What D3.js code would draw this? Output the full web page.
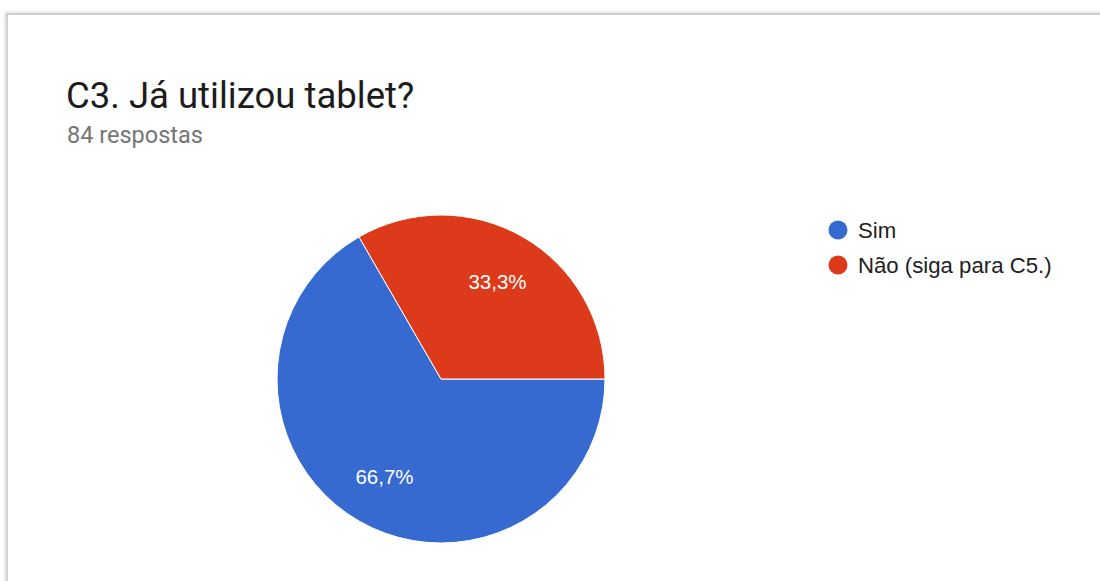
<!DOCTYPE html>
<html>
<head>
<meta charset="utf-8">
<script src="https://cdn.jsdelivr.net/npm/d3@7"></script>
<style>
  body { margin: 0; background: #fff; }
  svg { display: block; font-family: Roboto, Arial, sans-serif; }
</style>
</head>
<body>
<div id="chart"></div>
<script>
const categories = ['Sim', 'Não (siga para C5.)'];
const values = [56, 28];
const labels = ['66,7%', '33,3%'];
const colors = ['#366ad1', '#dc3a1a'];

const width = 1100;
const height = 581;

const svg = d3.select('#chart').append('svg').attr('width', width).attr('height', height);

// card frame with a soft shadow
const defs = svg.append('defs');
const blur = defs.append('filter').attr('id', 'shadow').attr('x', '-5%').attr('y', '-5%').attr('width', '110%').attr('height', '110%');
blur.append('feGaussianBlur').attr('stdDeviation', 2);

svg.append('rect')
  .attr('x', 7).attr('y', 14).attr('width', width + 20).attr('height', height + 20)
  .attr('fill', 'none').attr('stroke', '#d0d0d0').attr('stroke-width', 3)
  .attr('filter', 'url(#shadow)');
svg.append('rect')
  .attr('x', 7).attr('y', 14).attr('width', width + 20).attr('height', height + 20)
  .attr('fill', '#fff').attr('stroke', '#b8b8b8').attr('stroke-width', 1.2);

svg.append('text')
  .attr('x', 66).attr('y', 108)
  .attr('font-size', 36.5).attr('fill', '#1c1c1c')
  .text('C3. Já utilizou tablet?');

svg.append('text')
  .attr('x', 67).attr('y', 143)
  .attr('font-size', 23.5).attr('fill', '#757575')
  .text('84 respostas');

const cx = 441;
const cy = 379;
const radius = 164;

const pie = d3.pie().sort(null).startAngle(Math.PI / 2).endAngle(Math.PI / 2 + 2 * Math.PI);
const arcs = pie(values);
const arc = d3.arc().innerRadius(0).outerRadius(radius);
const labelArc = d3.arc().innerRadius(113).outerRadius(113);

const pieGroup = svg.append('g').attr('transform', `translate(${cx}, ${cy})`);

pieGroup.selectAll('path')
  .data(arcs)
  .join('path')
  .attr('d', arc)
  .attr('fill', (d, i) => colors[i])
  .attr('stroke', '#fff')
  .attr('stroke-width', 1);

pieGroup.selectAll('text')
  .data(arcs)
  .join('text')
  .attr('transform', (d) => `translate(${labelArc.centroid(d)})`)
  .attr('text-anchor', 'middle')
  .attr('dy', '0.36em')
  .attr('font-family', '"Liberation Sans", Arial, sans-serif')
  .attr('font-size', 20.5)
  .attr('fill', '#fff')
  .text((d, i) => labels[i]);

const legend = svg.append('g').attr('transform', 'translate(838, 230)');

const items = legend.selectAll('g')
  .data(categories)
  .join('g')
  .attr('transform', (d, i) => `translate(0, ${i * 35})`);

items.append('circle').attr('r', 9.5).attr('fill', (d, i) => colors[i]);
items.append('text')
  .attr('x', 20).attr('dy', '0.36em')
  .attr('font-family', '"Liberation Sans", Arial, sans-serif')
  .attr('font-size', 22.2).attr('fill', '#222')
  .text((d) => d);
</script>
</body>
</html>
